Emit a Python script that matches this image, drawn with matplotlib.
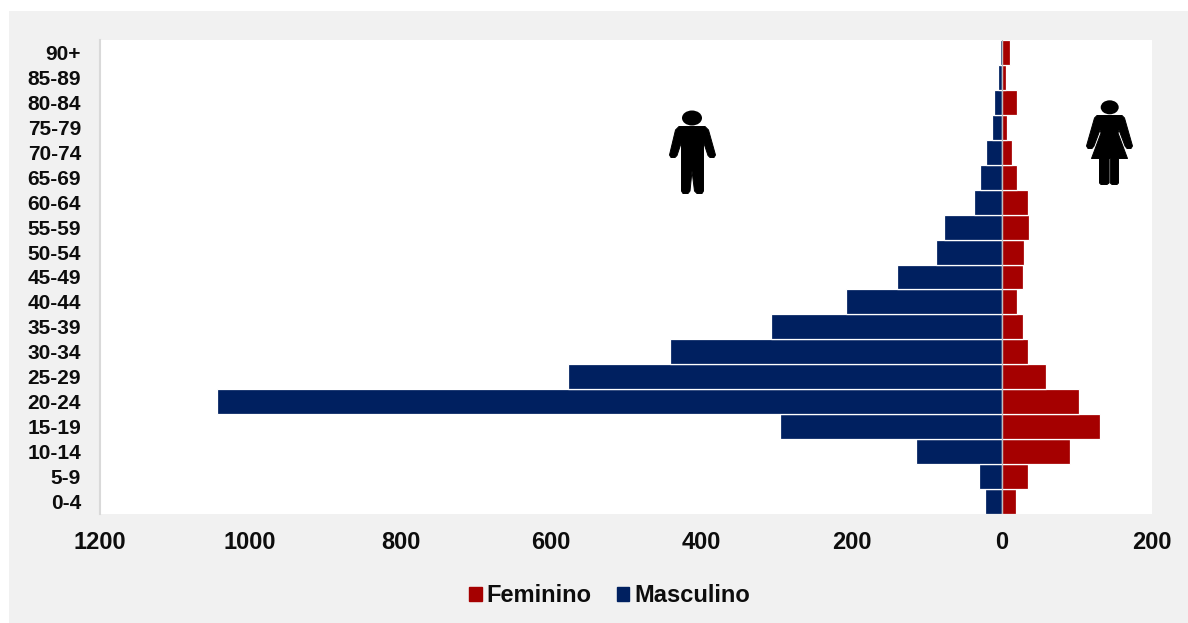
import numpy as np
import matplotlib
matplotlib.use('Agg')
import matplotlib.pyplot as plt
from matplotlib.patches import Ellipse, Patch, Polygon, Rectangle

plt.rcParams['font.family'] = ['Liberation Sans', 'DejaVu Sans']

faixas = ['0-4', '5-9', '10-14', '15-19', '20-24', '25-29', '30-34', '35-39', '40-44', '45-49',
          '50-54', '55-59', '60-64', '65-69', '70-74', '75-79', '80-84', '85-89', '90+']
masculino = [22, 30, 114, 295, 1044, 577, 441, 307, 207, 140, 88, 77, 37, 29, 21, 13, 10, 5, 2]
feminino = [19, 34, 91, 131, 103, 59, 34, 28, 20, 28, 30, 36, 35, 20, 14, 7, 20, 6, 11]
xticks = [-1200, -1000, -800, -600, -400, -200, 0, 200]

AZUL = '#002060'
VERMELHO = '#A50000'
CINZA = '#F1F1F1'
W, H = 1188, 623

fig = plt.figure(figsize=(W / 100, H / 100), dpi=100, facecolor='white')

# fundo cinza em coordenadas de pixel
bg = fig.add_axes([0, 0, 1, 1], zorder=0)
bg.set_xlim(0, W)
bg.set_ylim(H, 0)
bg.axis('off')
bg.add_patch(Rectangle((9, 11), W - 9, 612, fc=CINZA, ec='none'))

ax = fig.add_axes([99.8 / W, 1 - 514 / H, (1152.3 - 99.8) / W, (514 - 40) / H], zorder=1)
y = np.arange(len(faixas))
ax.barh(y, -np.array(masculino), height=1.0, color=AZUL, edgecolor='white', linewidth=0.9, label='Masculino')
ax.barh(y, feminino, height=1.0, color=VERMELHO, edgecolor='white', linewidth=0.9, label='Feminino')
ax.axvline(0, color='#BFBFBF', linewidth=0.8)

ax.set_xlim(-1200, 200)
ax.set_ylim(-0.5, len(faixas) - 0.5)
ax.set_yticks(y)
ax.set_yticklabels(faixas, fontsize=15, fontweight='bold', color='#0D0D0D')
ax.set_xticks(xticks)
ax.set_xticklabels([str(abs(v)) for v in xticks], fontsize=17, fontweight='bold', color='#0D0D0D')
ax.tick_params(axis='y', length=0, pad=13.5)
ax.tick_params(axis='x', length=0, pad=12.5)
for s in ['top', 'right', 'bottom']:
    ax.spines[s].set_visible(False)
ax.spines['left'].set_color('#D9D9D9')
ax.spines['left'].set_linewidth(1.5)

# legenda
handles = [Patch(color=VERMELHO, label='Feminino'), Patch(color=AZUL, label='Masculino')]
fig.legend(handles=handles, loc='center', bbox_to_anchor=(609.5 / W, 1 - 595.5 / H), ncol=2, frameon=False,
           prop={'size': 17, 'weight': 'bold'}, handlelength=0.52, handleheight=0.52,
           handletextpad=0.19, columnspacing=1.1, labelcolor='#0D0D0D')

# icones
over = fig.add_axes([0, 0, 1, 1], zorder=2)
over.set_xlim(0, W)
over.set_ylim(H, 0)
over.axis('off')
over.patch.set_alpha(0)

homem = [(679, 126.5), (705, 126.5), (708.5, 130), (715.5, 155), (714, 157.5), (710, 157.5), (708, 155.5), (703.5, 142),
         (703.5, 191), (702, 193.5), (697, 193.5), (694.5, 191), (692, 171), (690, 191), (688, 193.5), (683, 193.5),
         (681.5, 191), (681.5, 142), (677, 155.5), (675, 157.5), (671, 157.5), (669.5, 155), (675.5, 130)]
over.add_patch(Ellipse((692, 118), 20, 15, fc='black', ec='none'))
over.add_patch(Polygon(homem, closed=True, fc='black', ec='black', lw=0.7, joinstyle='round'))

mulher = [(1097, 115.5), (1122, 115.5), (1124.5, 118), (1132.5, 146), (1131, 148.5), (1127, 148.5), (1125, 146), (1119, 130),
          (1118, 133), (1127.5, 158.5), (1118.5, 158.5), (1118.5, 183), (1117, 184.5), (1112, 184.5), (1110.3, 183), (1110.3, 158.5),
          (1109, 158.5), (1109, 183), (1107, 184.5), (1101, 184.5), (1099.5, 183), (1099.5, 158.5), (1091.5, 158.5), (1101, 133),
          (1100, 130), (1094, 146), (1092, 148.5), (1088, 148.5), (1086.5, 146), (1094.5, 118)]
over.add_patch(Ellipse((1109.7, 107.3), 18, 14, fc='black', ec='none'))
over.add_patch(Polygon(mulher, closed=True, fc='black', ec='black', lw=0.7, joinstyle='round'))

fig.savefig('out.png', dpi=100, facecolor='white')
